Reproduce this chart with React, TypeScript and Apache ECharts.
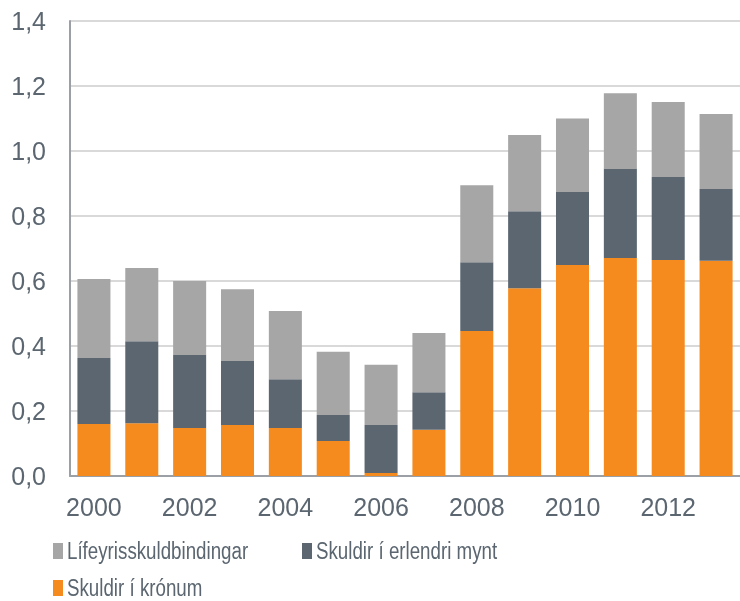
import React, { useEffect, useRef } from "react";
import * as echarts from "echarts";

const years = ["2000","2001","2002","2003","2004","2005","2006","2007","2008","2009","2010","2011","2012","2013"];
const kronum = [0.160, 0.162, 0.148, 0.157, 0.148, 0.108, 0.009, 0.142, 0.446, 0.578, 0.649, 0.671, 0.665, 0.662];
const erlendri = [0.203, 0.253, 0.224, 0.197, 0.150, 0.080, 0.148, 0.116, 0.212, 0.237, 0.225, 0.274, 0.255, 0.221];
const lifeyris = [0.243, 0.225, 0.228, 0.221, 0.210, 0.194, 0.185, 0.182, 0.237, 0.234, 0.226, 0.233, 0.231, 0.231];
const seriesNames = ["Lífeyrisskuldbindingar", "Skuldir í erlendri mynt", "Skuldir í krónum"];
const seriesColors = ["#A6A6A6", "#5B6670", "#F58B1F"];

const textColor = "#5B6670";
const font = "Liberation Sans, Arial, sans-serif";

export default function App() {
  const ref = useRef<HTMLDivElement>(null);
  useEffect(() => {
    if (!ref.current) return;
    const chart = echarts.init(ref.current, undefined, { renderer: "svg" });
    const legendPos = [
      { x: 53, y: 543 },
      { x: 302, y: 543 },
      { x: 53, y: 580 },
    ];
    const graphic: any[] = [];
    seriesNames.forEach((name, i) => {
      const p = legendPos[i];
      graphic.push({
        type: "rect",
        shape: { x: p.x, y: p.y, width: 10, height: 16 },
        style: { fill: seriesColors[i] },
        silent: true,
      });
      graphic.push({
        type: "text",
        x: p.x + 14,
        y: p.y + 8,
        scaleX: 0.815,
        style: {
          text: name,
          fill: textColor,
          fontSize: 23,
          fontFamily: font,
          verticalAlign: "middle",
          align: "left",
        },
        silent: true,
      });
    });
    chart.setOption({
      animation: false,
      textStyle: { fontFamily: font },
      grid: { left: 70, right: 0, top: 21, bottom: 125 },
      graphic,
      xAxis: {
        type: "category",
        data: years,
        axisTick: { show: false },
        axisLine: { lineStyle: { color: "#9AA0A6", width: 2 } },
        axisLabel: { interval: 1, color: textColor, fontSize: 25, margin: 18 },
      },
      yAxis: {
        type: "value",
        min: 0,
        max: 1.4,
        interval: 0.2,
        axisLine: { show: true, lineStyle: { color: "#9AA0A6", width: 2 } },
        axisTick: { show: false },
        splitLine: { lineStyle: { color: "#D9D9D9", width: 2 } },
        axisLabel: {
          color: textColor,
          fontSize: 25,
          margin: 24,
          formatter: (v: number) => v.toFixed(1).replace(".", ","),
        },
      },
      series: [
        { name: seriesNames[2], type: "bar", stack: "a", data: kronum, barWidth: "69%", itemStyle: { color: seriesColors[2] } },
        { name: seriesNames[1], type: "bar", stack: "a", data: erlendri, itemStyle: { color: seriesColors[1] } },
        { name: seriesNames[0], type: "bar", stack: "a", data: lifeyris, itemStyle: { color: seriesColors[0] } },
      ],
    });
    return () => chart.dispose();
  }, []);
  return <div ref={ref} style={{ position: "fixed", left: 0, top: 0, width: 740, height: 601 }} />;
}
